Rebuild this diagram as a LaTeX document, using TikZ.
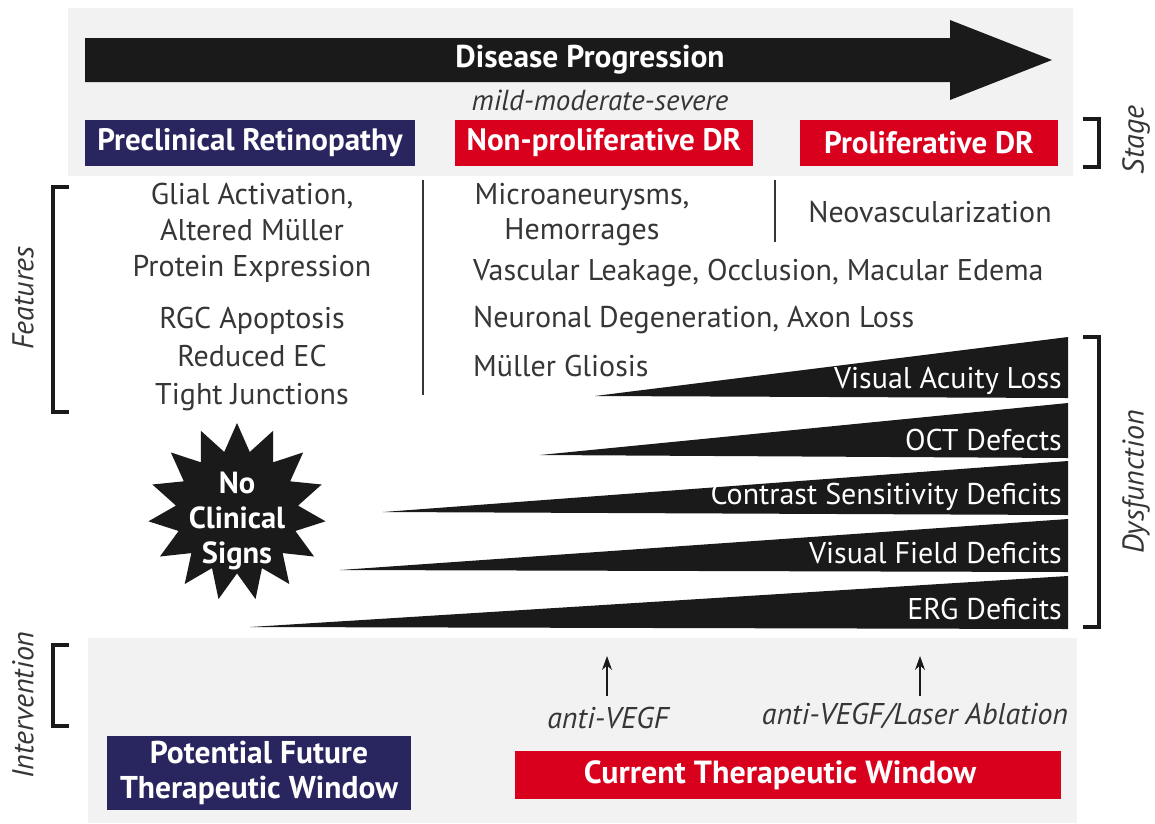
\documentclass[tikz,border=0pt]{standalone}
\usepackage{fontspec}
\setmainfont{PT Sans}
\usetikzlibrary{shapes.geometric,arrows.meta}
\definecolor{navy}{HTML}{28255F}
\definecolor{drred}{HTML}{D8001D}
\definecolor{panelgray}{HTML}{F2F2F2}
\definecolor{ink}{HTML}{363636}
\definecolor{blk}{HTML}{1B1A1A}
\newcommand{\fsz}[1]{\fontsize{#1}{#1}\selectfont}
\begin{document}
\begin{tikzpicture}[x=1pt,y=-1pt,
  panel/.style={fill=panelgray},
  stagebox/.style={fill=#1, text=white, font=\bfseries\fsz{31}, inner sep=0, minimum height=46},
  featl/.style={text=ink, font=\fsz{30}, inner sep=0, anchor=west},
  sidelabel/.style={text=ink, font=\itshape\fsz{30}, rotate=90, inner sep=0},
  bracketline/.style={line width=4.5, draw=blk},
  divider/.style={draw=ink, line width=1.2},
  wedge/.style={fill=blk},
  wedgelabel/.style={text=white, font=\fsz{30}, anchor=east, inner sep=0},
  treat/.style={text=ink, font=\itshape\fsz{30}, inner sep=0},
  uparrow/.style={draw=blk, line width=1.4, -{Stealth[length=14, width=10]}},
]
% canvas and light panels
\fill[white] (0,0) rectangle (1155,823);
\useasboundingbox (0,0) rectangle (1155,823);
\fill[panel] (68,8) rectangle (1073,176);
\fill[panel] (88,638) rectangle (1077,823);

% progression arrow
\fill[blk] (85,38) -- (950,38) -- (950,20) -- (1052,60) -- (950,100) -- (950,82) -- (85,82) -- cycle;
\node[text=white, font=\bfseries\fsz{31.5}, inner sep=0] (dp) at (590,60) {Disease Progression};
\node[text=ink, font=\itshape\fsz{29}, inner sep=0] (mms) at (600,100) {mild-moderate-severe};

% stages
\node[stagebox=navy, minimum width=330] (pre) at (250,142.5) {Preclinical Retinopathy};
\node[stagebox=drred, minimum width=298] (npdr) at (604,142.5) {Non-proliferative DR};
\node[stagebox=drred, minimum width=258] (pdr) at (929,142.5) {Proliferative DR};
\draw[bracketline] (1083,119) -- (1099,119) -- (1099,167) -- (1083,167);
\node[sidelabel] (stage) at (1136,140) {Stage};

% features
\draw[bracketline] (69,187) -- (53,187) -- (53,412) -- (69,412);
\node[sidelabel] (features) at (23,298) {Features};
\node[text=ink, font=\fontsize{30}{36}\selectfont, inner sep=0, align=center] (glial) at (252,233)
  {Glial Activation,\\Altered Müller\\Protein Expression};
\node[text=ink, font=\fontsize{30}{38}\selectfont, inner sep=0, align=center] (rgc) at (252,359)
  {RGC Apoptosis\\Reduced EC\\Tight Junctions};
\draw[divider] (423,180) -- (423,395);
\node[text=ink, font=\fontsize{30}{35}\selectfont, inner sep=0, align=center] (micro) at (582,215)
  {Microaneurysms,\\Hemorrages};
\draw[divider] (775,180) -- (775,242);
\node[text=ink, font=\fsz{30}, inner sep=0] (neo) at (930,212) {Neovascularization};
\node[featl] (vasc) at (473,273) {Vascular Leakage, Occlusion, Macular Edema};
\node[featl] (neur) at (473,320) {Neuronal Degeneration, Axon Loss};
\node[featl] (glio) at (473,366) {Müller Gliosis};

% dysfunction wedges
\fill[wedge] (595,396) -- (1068,337) -- (1068,398) -- cycle;
\fill[wedge] (540,455) -- (1068,403) -- (1068,458) -- cycle;
\fill[wedge] (383,512) -- (1068,461) -- (1068,515) -- cycle;
\fill[wedge] (340,570) -- (1068,519) -- (1068,572) -- cycle;
\fill[wedge] (250,627) -- (1068,576) -- (1068,629) -- cycle;
\node[wedgelabel] (val) at (1062,381) {Visual Acuity Loss};
\node[wedgelabel] (oct) at (1062,440) {OCT Defects};
\node[wedgelabel] (csd) at (1062,497) {Contrast Sensitivity Deficits};
\node[wedgelabel] (vfd) at (1062,553) {Visual Field Deficits};
\node[wedgelabel] (erg) at (1062,609) {ERG Deficits};
\draw[bracketline] (1083,337) -- (1099,337) -- (1099,627) -- (1083,627);
\node[sidelabel] (dys) at (1136,482) {Dysfunction};

% no clinical signs burst
\node[star, star points=15, star point ratio=1.45, minimum size=178, inner sep=0, fill=blk] (burst) at (237,512) {};
\node[text=white, font=\bfseries\fontsize{30.5}{35}\selectfont, align=center, inner sep=0] (ncs) at (237,521)
  {No\\Clinical\\Signs};

% intervention
\draw[bracketline] (69,645) -- (53,645) -- (53,726) -- (69,726);
\node[sidelabel] (interv) at (23,705) {Intervention};
\node[treat] (av) at (608,718) {anti-VEGF};
\node[treat] (avl) at (915,716) {anti-VEGF/Laser Ablation};
\coordinate (av0) at (607,696);
\coordinate (av1) at (607,656);
\coordinate (avl0) at (920,696);
\coordinate (avl1) at (920,656);
\draw[uparrow] (av0) -- (av1);
\draw[uparrow] (avl0) -- (avl1);
\node[fill=drred, text=white, font=\bfseries\fsz{32}, inner sep=0, minimum width=546, minimum height=48] (ctw) at (788,775)
  {Current Therapeutic Window\hspace*{16pt}};
\node[fill=navy, text=white, font=\bfseries\fontsize{31.5}{35}\selectfont, align=center, inner sep=0, minimum width=304, minimum height=74] (pftw) at (259,773)
  {Potential Future\\Therapeutic Window};
\end{tikzpicture}
\end{document}
